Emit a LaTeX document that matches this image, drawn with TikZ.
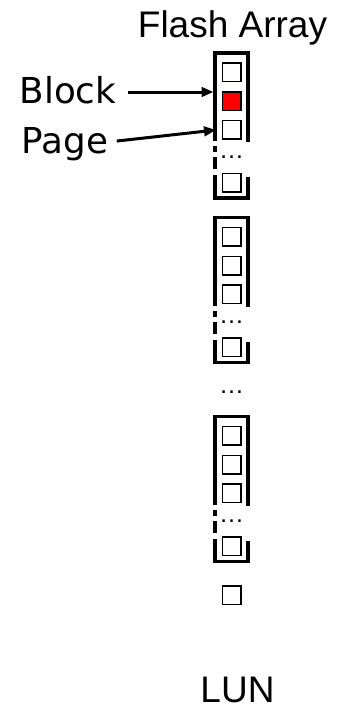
\documentclass[tikz,border=0pt]{standalone}
\usepackage{fontspec}
\setmainfont{Liberation Sans}
\newfontfamily\lblfont{DejaVu Sans}
\usetikzlibrary{arrows.meta}

\begin{document}
\begin{tikzpicture}[x=1pt,y=-1pt,
    frame/.style={line width=3.2pt},
    page/.style={draw,line width=1.5pt,minimum size=18.5pt,inner sep=0pt},
    pg-a2/.style={fill=red},
    dots/.style={font=\fontsize{25}{25}\selectfont,inner sep=0pt,anchor=base},
    title/.style={font=\fontsize{37}{40}\selectfont,inner sep=0pt,anchor=base},
    lbl/.style={font=\lblfont\fontsize{35.7}{40}\selectfont,inner sep=0pt,
      text height=26pt,text depth=4pt,anchor=base west},
    arr/.style={-{Triangle[length=12pt,width=9.5pt]},line width=3pt}]
    \useasboundingbox (0,0) rectangle (337,707);
    \node[title] (flash) at (232.5,37) {Flash Array};
    % blocks of the array
    \foreach \t/\n in {53/a,217.5/b,416.5/c}{
      \draw[frame] (215,\t+88) -- (215,\t) -- (248,\t) -- (248,\t+89);
      \draw[frame] (215,\t+93) -- (215,\t+99) (215,\t+104) -- (215,\t+116);
      \draw[frame] (215,\t+122) -- (215,\t+145) -- (248,\t+145) -- (248,\t+124);
      \foreach \o [count=\i] in {19,48,76.5,129.5}
        \node[page,pg-\n\i/.try] (\n\i) at (231.5,\t+\o) {};
      \node[dots] (\n-dots) at (231.5,\t+105.5) {…};
    }
    \node[dots] (gap) at (231.5,393) {…};
    \node[page] (last) at (231.5,595) {};
    \node[title] (lun) at (237.5,702) {LUN};
    % labels
    \node[lbl] (blocklbl) at (19.5,103) {Block};
    \node[lbl] (pagelbl) at (21.5,153) {Page};
    \coordinate (blk) at (213.5,92);
    \coordinate (pg) at (216,130);
    \draw[arr,shorten <=12pt] (blocklbl.east) -- (blk);
    \draw[arr,shorten <=8.5pt] (pagelbl.east) -- (pg);
  \end{tikzpicture}
\end{document}
